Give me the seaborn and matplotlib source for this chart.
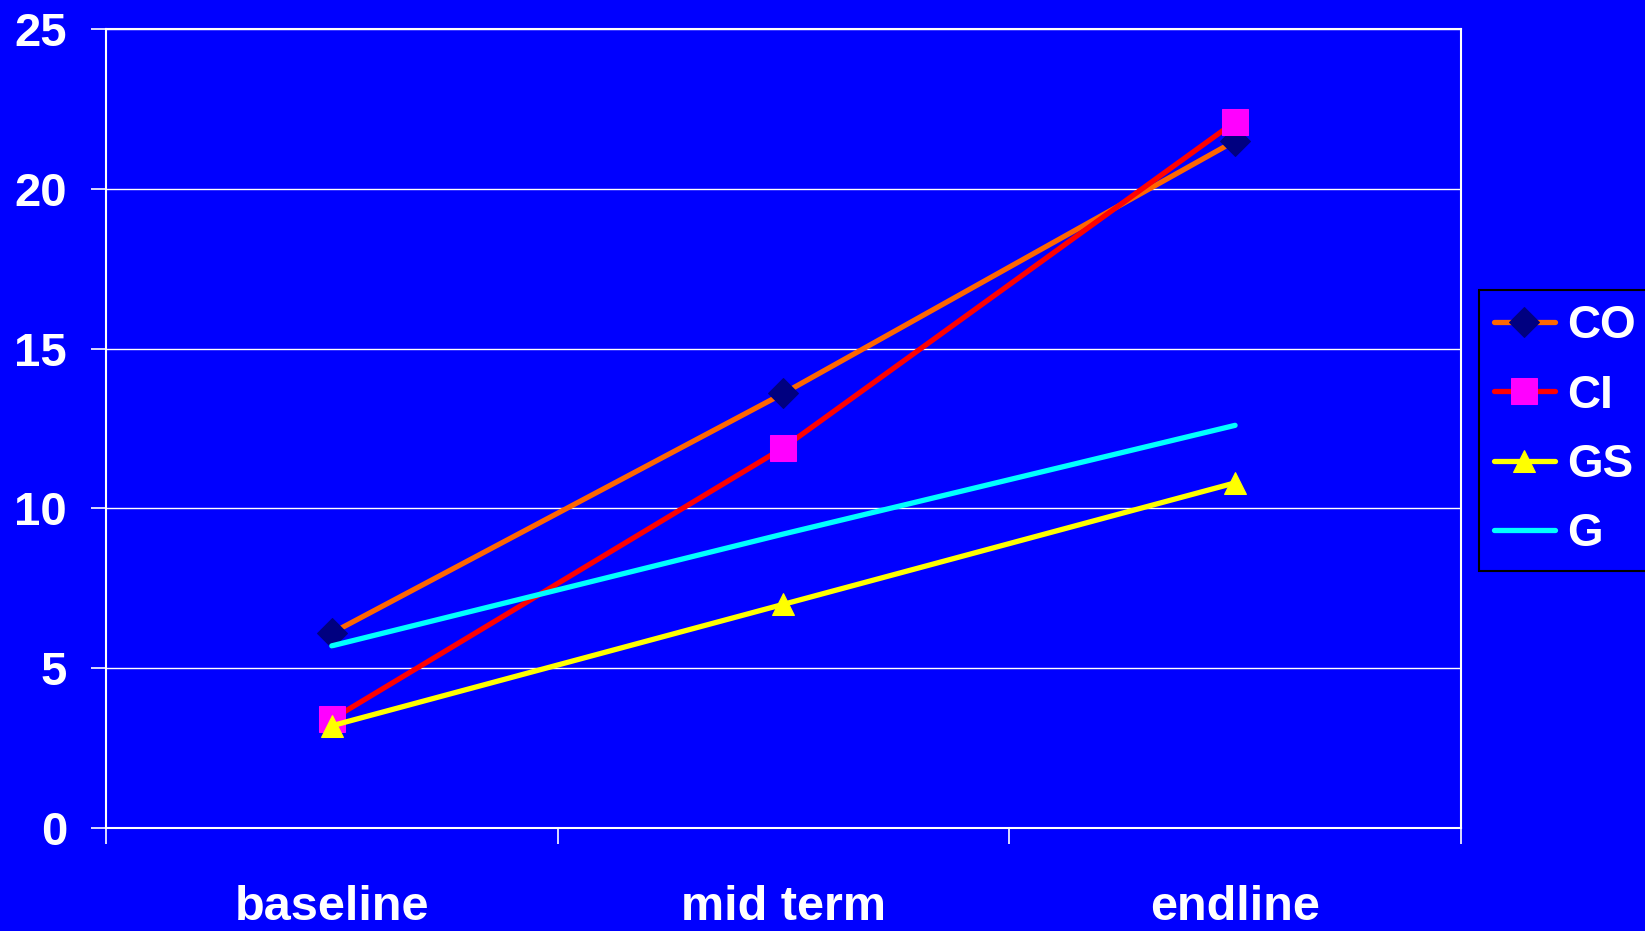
import matplotlib
matplotlib.use("Agg")
import matplotlib.pyplot as plt
import seaborn as sns
import pandas as pd
from matplotlib.ticker import FixedLocator

# Survey rounds and the four indicator series
rounds = ["baseline", "mid term", "endline"]
co_values = [6.1, 13.6, 21.5]
ci_values = [3.4, 11.9, 22.1]
gs_values = [3.2, 7.0, 10.8]
g_values = [5.7, 9.2, 12.6]
y_ticks = [0, 5, 10, 15, 20, 25]

series = {"CO": co_values, "CI": ci_values, "GS": gs_values, "G": g_values}
df = pd.DataFrame(
    [(name, r, v) for name, vals in series.items() for r, v in zip(rounds, vals)],
    columns=["series", "round", "value"],
)

BLUE = "#0000FF"
styles = {
    "CO": dict(color="#FF6600", marker="D", markersize=15, markerfacecolor="#000080",
               markeredgecolor="#000080"),
    "CI": dict(color="#FF0000", marker="s", markersize=19, markerfacecolor="#FF00FF",
               markeredgecolor="#FF00FF"),
    "GS": dict(color="#FFFF00", marker="^", markersize=16, markerfacecolor="#FFFF00",
               markeredgecolor="#FFFF00"),
    "G": dict(color="#00FFFF", marker=None),
}

sns.set_theme(style="white")
plt.rcParams["font.family"] = ["Liberation Sans", "DejaVu Sans"]
plt.rcParams["font.weight"] = "bold"
plt.rcParams["lines.solid_capstyle"] = "round"

fig = plt.figure(figsize=(16.45, 9.31), dpi=100, facecolor=BLUE)
ax = fig.add_axes([0.0644, 0.1106, 0.8237, 0.8582])
ax.set_facecolor(BLUE)

for name in series:
    sub = df[df["series"] == name]
    sns.lineplot(data=sub, x="round", y="value", ax=ax, label=name,
                 linewidth=3.8, sort=False, **styles[name])

ax.set_xlim(-0.5, len(rounds) - 0.5)
ax.set_ylim(0, 25)
ax.set_yticks(y_ticks)
ax.set_xticks(range(len(rounds)))
ax.set_xticklabels(rounds)
ax.xaxis.set_minor_locator(FixedLocator([i - 0.5 for i in range(len(rounds) + 1)]))
ax.set_xlabel("")
ax.set_ylabel("")

ax.grid(axis="y", color="white", linewidth=1.0)
ax.set_axisbelow(True)
for s in ax.spines.values():
    s.set_color("white")
    s.set_linewidth(1.5)

ax.tick_params(axis="y", which="major", direction="out", length=11, width=1.2,
               color="white", labelcolor="white", labelsize=34, pad=17, left=True)
ax.tick_params(axis="x", which="major", length=0, labelcolor="white",
               labelsize=35, pad=41, bottom=True)
ax.tick_params(axis="x", which="minor", direction="out", length=11.5, width=1.2,
               color="white", bottom=True)
for lab in ax.get_xticklabels() + ax.get_yticklabels():
    lab.set_fontweight("bold")

leg = ax.legend(loc="center left", bbox_to_anchor=(0.899, 0.538),
                bbox_transform=fig.transFigure, borderaxespad=0,
                frameon=True, fancybox=False, facecolor=BLUE, edgecolor="black",
                fontsize=33, handlelength=1.35, handletextpad=0.25,
                labelspacing=0.55, borderpad=0.32, markerscale=1.0)
leg.get_frame().set_linewidth(1.5)
leg.get_frame().set_alpha(1)
for t in leg.get_texts():
    t.set_color("white")
    t.set_fontweight("bold")

fig.savefig("out.png", dpi=100, facecolor=BLUE)
